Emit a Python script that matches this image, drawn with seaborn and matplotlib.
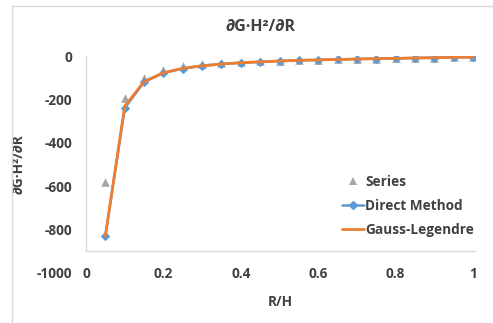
import matplotlib
matplotlib.use("Agg")
import matplotlib.pyplot as plt
import seaborn as sns
import pandas as pd
from matplotlib.patches import Rectangle
from matplotlib.lines import Line2D

# R/H ratio sampled every 0.05
r_over_h = [0.05, 0.10, 0.15, 0.20, 0.25, 0.30, 0.35, 0.40, 0.45, 0.50,
            0.55, 0.60, 0.65, 0.70, 0.75, 0.80, 0.85, 0.90, 0.95, 1.00]
series_vals = [-580, -195, -100, -65, -48, -38, -32, -28, -24, -21,
               -19, -17, -15, -13, -12, -10, -9, -8, -6, -5]
direct_vals = [-830, -240, -120, -78, -58, -45, -37, -31, -27, -23,
               -20, -18, -16, -14, -12, -11, -9, -8, -6, -5]
gauss_vals = [-830, -232, -118, -77, -57, -45, -37, -31, -27, -23,
              -20, -18, -16, -14, -12, -11, -9, -8, -6, -5]
x_ticks = [0, 0.2, 0.4, 0.6, 0.8, 1]
x_tick_labels = ["0", "0.2", "0.4", "0.6", "0.8", "1"]
y_ticks = [0, -200, -400, -600, -800, -1000]
y_tick_labels = ["0", "-200", "-400", "-600", "-800", "-1000"]

sns.set_theme(style="white")
plt.rcParams["font.family"] = ["Open Sans", "DejaVu Sans"]

C_SERIES = "#A5A5A5"
C_DIRECT = "#5B9BD5"
C_GAUSS = "#ED7D31"
TXT = "#404040"
FS = 9.8

df = pd.DataFrame({"x": r_over_h, "series": series_vals,
                   "direct": direct_vals, "gauss": gauss_vals})

fig = plt.figure(figsize=(4.93, 3.23), dpi=100)
ax = fig.add_axes([86 / 493, 1 - 273 / 323, (475 - 86) / 493, (273 - 56) / 323])

# chart frame
fig.patches.append(Rectangle((12 / 493, -0.05), 1.1, 1 - 6 / 323 + 0.05,
                             transform=fig.transFigure, fill=False,
                             edgecolor="#D9D9D9", linewidth=1.0))

sns.scatterplot(data=df, x="x", y="series", ax=ax, marker="^", s=38,
                color=C_SERIES, edgecolor=C_SERIES, linewidth=0, zorder=3)
sns.lineplot(data=df, x="x", y="direct", ax=ax, color=C_DIRECT, linewidth=1.8,
             marker="D", markersize=4.5, markeredgecolor=C_DIRECT, zorder=4)
sns.lineplot(data=df, x="x", y="gauss", ax=ax, color=C_GAUSS, linewidth=2.0,
             zorder=5)

ax.set_xlim(0, 1.005)
ax.set_ylim(-1000, 0)
for s in ax.spines.values():
    s.set_visible(False)
# axis lines: horizontal axis crosses at -900
ax.plot([0, 1.005], [-900, -900], color="#D9D9D9", linewidth=1.0, zorder=1,
        clip_on=False)
ax.plot([0, 0], [-900, 0], color="#D9D9D9", linewidth=1.0, zorder=1,
        clip_on=False)

ax.set_xticks(x_ticks)
ax.set_xticklabels(x_tick_labels)
ax.set_yticks(y_ticks)
ax.set_yticklabels(y_tick_labels)
ax.tick_params(axis="both", length=0, labelsize=FS, labelcolor=TXT)
ax.tick_params(axis="x", pad=-4)
ax.tick_params(axis="y", pad=10)
for lab in ax.get_xticklabels() + ax.get_yticklabels():
    lab.set_fontweight("bold")
ax.grid(False)

ax.set_xlabel("R/H", fontsize=FS, fontweight="bold", color=TXT, labelpad=10)
ax.set_ylabel("∂G·H²/∂R", fontsize=FS, fontweight="bold", color=TXT, labelpad=8)
fig.text(261 / 493, 1 - 27 / 323, "∂G·H²/∂R", ha="center", va="center",
         fontsize=11.5, fontweight="bold", color=TXT)

handles = [
    Line2D([], [], linestyle="none", marker="^", markersize=6,
           color=C_SERIES, markeredgewidth=0),
    Line2D([], [], color=C_DIRECT, linewidth=1.8, marker="D", markersize=4.5),
    Line2D([], [], color=C_GAUSS, linewidth=2.0),
]
leg = ax.legend(handles, ["Series", "Direct Method", "Gauss-Legendre"],
                loc="center left", bbox_to_anchor=(0.645, 0.31), frameon=False,
                fontsize=FS, handlelength=1.6, handletextpad=0.1,
                labelspacing=0.75, borderaxespad=0)
for t in leg.get_texts():
    t.set_fontweight("bold")
    t.set_color(TXT)

fig.savefig("out.png", dpi=100)
